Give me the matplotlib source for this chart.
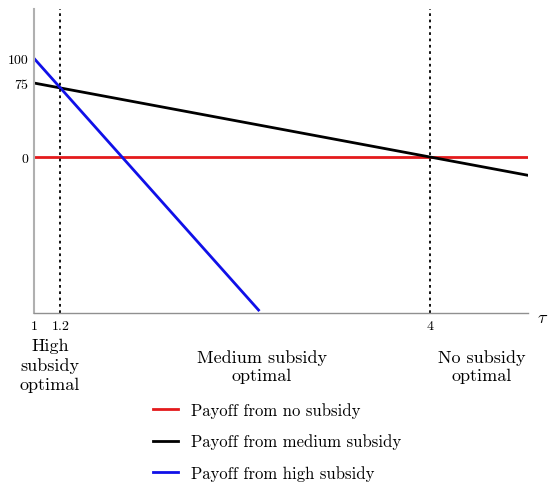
import matplotlib.pyplot as plt
import numpy as np

plt.rcParams['font.family'] = ['cmr10', 'DejaVu Serif']
plt.rcParams['mathtext.fontset'] = 'cm'

# payoffs as linear functions of tau
tau_min, tau_max = 1.0, 4.74
tau = np.array([tau_min, tau_max])
no_sub = np.array([0.0, 0.0])
medium_sub = np.array([75.0, 75.0 - 25.0 * (tau_max - 1)])
tau_high = np.array([1.0, 2.70])
high_sub = np.array([100.0, 100.0 - 150.0 * (2.70 - 1)])

cutoffs = [1.2, 4.0]
xtick_pos = [1, 1.2, 4]
xtick_lab = ['1', '1.2', '4']
ytick_pos = [0, 75, 100]
ytick_lab = ['0', '75', '100']

fig = plt.figure(figsize=(5.5, 4.85), dpi=100)
ax = fig.add_axes([34 / 550, 1 - 314 / 485, 494 / 550, 304 / 485])

l1, = ax.plot(tau, no_sub, color='#e41a1c', lw=2, label='Payoff from no subsidy')
l2, = ax.plot(tau, medium_sub, color='black', lw=2, label='Payoff from medium subsidy')
l3, = ax.plot(tau_high, high_sub, color='#1010e8', lw=2, label='Payoff from high subsidy')
for c in cutoffs:
    ax.axvline(c, color='black', ls=(0, (1.5, 2)), lw=1.3)

ax.set_xlim(tau_min, tau_max)
ax.set_ylim(-158, 150)
ax.set_xticks(xtick_pos, xtick_lab, fontsize=10)
ax.set_yticks(ytick_pos, ytick_lab, fontsize=10)
ax.tick_params(length=0, pad=5)
ax.tick_params(axis='y', pad=4)
for s in ['top', 'right']:
    ax.spines[s].set_visible(False)
ax.spines['left'].set_color('#b0b0b0')
ax.spines['left'].set_linewidth(1.5)
ax.spines['bottom'].set_color('#909090')
ax.spines['bottom'].set_linewidth(1)

fig.text(543 / 550, 1 - 318 / 485, r'$\tau$', fontsize=13, ha='center', va='center')

fig.text(50 / 550, 1 - 366 / 485, 'High\nsubsidy\noptimal', fontsize=13,
         ha='center', va='center', linespacing=1.3)
fig.text(262 / 550, 1 - 367 / 485, 'Medium subsidy\noptimal', fontsize=13,
         ha='center', va='center', linespacing=1.25)
fig.text(482 / 550, 1 - 367 / 485, 'No subsidy\noptimal', fontsize=13,
         ha='center', va='center', linespacing=1.25)

fig.legend(handles=[l1, l2, l3], loc='upper left', bbox_to_anchor=(138 / 550, 1 - 388 / 485),
           frameon=False, fontsize=12, labelspacing=0.95, handlelength=1.5)

fig.savefig('out.png', dpi=100)
